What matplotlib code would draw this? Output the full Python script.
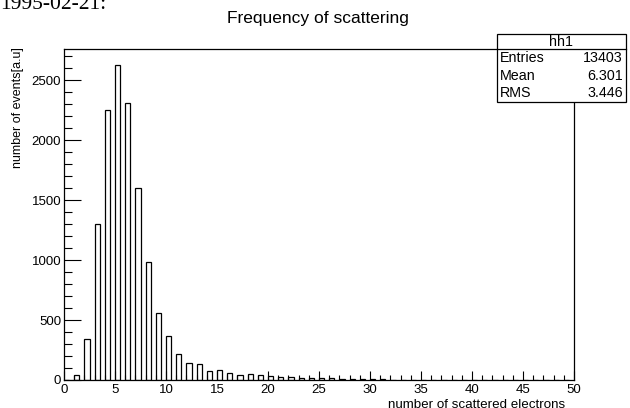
import matplotlib
matplotlib.use("Agg")
import matplotlib.pyplot as plt
from matplotlib.ticker import MultipleLocator
from matplotlib.patches import Rectangle

plt.rcParams['font.family'] = ['Liberation Sans', 'DejaVu Sans']

# Histogram data: bin lower edges and counts
bins = list(range(0, 50))
counts = [0, 40, 340, 1300, 2256, 2631, 2308, 1600, 981, 556,
          367, 214, 139, 131, 72, 81, 62, 40, 50, 44,
          32, 25, 22, 20, 18, 15, 13, 12, 10, 9,
          7, 5, 4, 3, 2, 1, 1, 0, 0, 0,
          0, 0, 0, 0, 0, 0, 0, 0, 0, 0]

title = "Frequency of scattering"
xlabel = "number of scattered electrons"
ylabel = "number of events[a.u]"
stats_name = "hh1"
stats_labels = ["Entries", "Mean", "RMS"]
stats_values = ["13403", "6.301", "3.446"]
date_text = "1995-02-21:"

W, H = 630, 408
fig = plt.figure(figsize=(W / 100, H / 100), dpi=100)
ax = fig.add_axes([64 / W, (H - 380) / H, 510 / W, 331 / H])

ax.bar(bins, counts, width=0.5, align='edge', facecolor='white',
       edgecolor='black', linewidth=0.9)

ax.set_xlim(0, 50)
ax.set_ylim(0, max(counts) * 1.05)

ax.xaxis.set_major_locator(MultipleLocator(5))
ax.xaxis.set_minor_locator(MultipleLocator(1))
ax.yaxis.set_major_locator(MultipleLocator(500))
ax.yaxis.set_minor_locator(MultipleLocator(100))

ax.tick_params(axis='both', which='both', direction='in', top=False, right=False,
               labelsize=9.5, width=0.8)
ax.tick_params(axis='y', which='major', length=12, pad=2)
ax.tick_params(axis='y', which='minor', length=6)
ax.tick_params(axis='x', which='major', length=6.5, pad=3)
ax.tick_params(axis='x', which='minor', length=3.6)
for s in ax.spines.values():
    s.set_linewidth(0.9)

fig.text(318 / W, 1 - 18 / H, title, ha='center', va='center', fontsize=12.5)
fig.text(565 / W, 1 - 405 / H, xlabel, ha='right', va='center', fontsize=9.6)
fig.text(18 / W, 1 - 47 / H, ylabel, ha='center', va='top', rotation=90, fontsize=9)
fig.text(0 / W, 1 - 9 / H, date_text, ha='left', va='baseline', fontsize=15.5,
         family='Liberation Serif')

# stats box
bx0, bx1, by0, by1 = 497, 626, 34, 102
hdr = 49
box = Rectangle((bx0 / W, 1 - by1 / H), (bx1 - bx0) / W, (by1 - by0) / H,
                transform=fig.transFigure, facecolor='white', edgecolor='black',
                linewidth=0.9, zorder=5)
fig.add_artist(box)
fig.add_artist(plt.Line2D([bx0 / W, bx1 / W], [1 - hdr / H, 1 - hdr / H],
                          transform=fig.transFigure, color='black', linewidth=0.9, zorder=6))
fig.text((bx0 + bx1) / 2 / W, 1 - 41.5 / H, stats_name, ha='center', va='center',
         fontsize=10.3, zorder=7)
row_y = [58, 76, 93]
for lab, val, yy in zip(stats_labels, stats_values, row_y):
    fig.text((bx0 + 3) / W, 1 - yy / H, lab, ha='left', va='center', fontsize=10.3, zorder=7)
    fig.text((bx1 - 3) / W, 1 - yy / H, val, ha='right', va='center', fontsize=10.3, zorder=7)

fig.savefig("out.png", dpi=100)
